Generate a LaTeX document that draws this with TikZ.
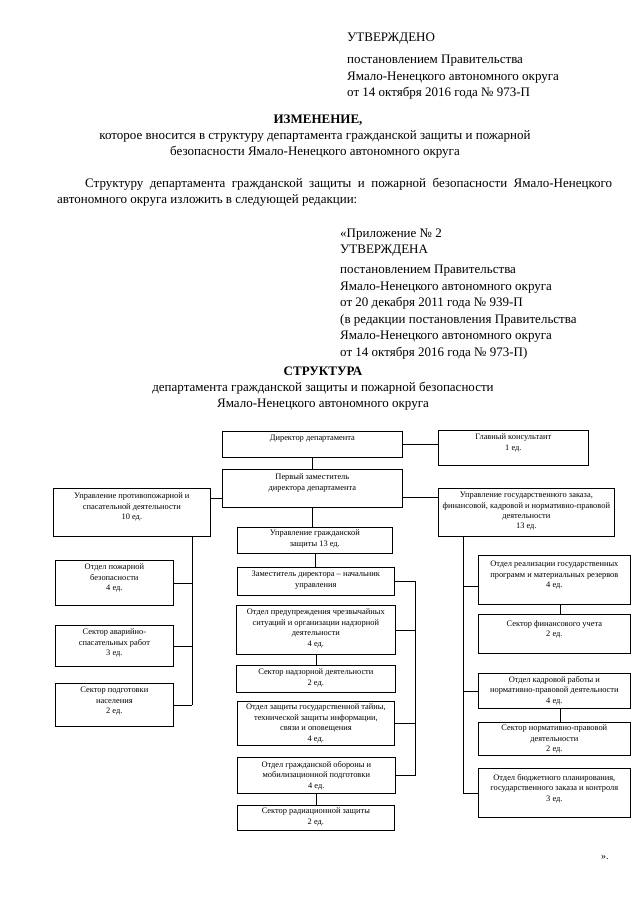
\documentclass[tikz,border=0pt]{standalone}
\usepackage{fontspec}
\setmainfont{Liberation Serif}
\newcommand\hdfont{\fontsize{13}{16}\selectfont}
\newcommand\chfont{\fontsize{8.4}{10.4}\selectfont}
\tikzset{
  box/.style={draw, line width=0.7pt, inner sep=0pt},
  btext/.style={font=\chfont, align=center, inner sep=0pt, anchor=north},
  hd/.style={font=\hdfont, inner sep=0pt, anchor=base west},
  hdc/.style={font=\hdfont, inner sep=0pt, anchor=base},
  link/.style={line width=0.7pt}
}
\newcommand\bx[7]{%
  \node[box, anchor=north west, minimum width={(#4-#2)*1pt}, minimum height={(#5-#3)*1pt}] (#1) at (#2,#3) {};
  \node[btext] (#1t) at ([yshift=-#6pt]#1.north) {#7};
}
\begin{document}
\begin{tikzpicture}[x=1pt,y=-1pt]
\useasboundingbox (0,0) rectangle (640,905);
% header
\node[hd] (h1) at (347,41) {УТВЕРЖДЕНО};
\node[hd] (h2) at (347,63) {постановлением Правительства};
\node[hd] (h3) at (347,80) {Ямало-Ненецкого автономного округа};
\node[hd] (h4) at (347,96) {от 14 октября 2016 года № 973-П};
\node[hdc] (t1) at (318,123) {\bfseries ИЗМЕНЕНИЕ,};
\node[hdc] (t2) at (315,139) {которое вносится в структуру департамента гражданской защиты и пожарной};
\node[hdc] (t3) at (315,155) {безопасности Ямало-Ненецкого автономного округа};
\node[hd] (p1) at (85,187) {\makebox[527pt][s]{Структуру департамента гражданской защиты и пожарной безопасности Ямало-Ненецкого}};
\node[hd] (p2) at (57,203) {автономного округа изложить в следующей редакции:};
\node[hd] (a1) at (340,237) {«Приложение № 2};
\node[hd] (a2) at (340,253) {УТВЕРЖДЕНА};
\node[hd] (a3) at (340,273) {постановлением Правительства};
\node[hd] (a4) at (340,290) {Ямало-Ненецкого автономного округа};
\node[hd] (a5) at (340,306) {от 20 декабря 2011 года № 939-П};
\node[hd] (a6) at (340,323) {(в редакции постановления Правительства};
\node[hd] (a7) at (340,339) {Ямало-Ненецкого автономного округа};
\node[hd] (a8) at (340,356) {от 14 октября 2016 года № 973-П)};
\node[hdc] (s1) at (323,375) {\bfseries СТРУКТУРА};
\node[hdc] (s2) at (323,391) {департамента гражданской защиты и пожарной безопасности};
\node[hdc] (s3) at (323,407) {Ямало-Ненецкого автономного округа};
% top level
\bx{dir}{222}{431}{402}{457}{4}{Директор департамента}
\bx{cons}{438}{430}{588}{465}{4}{Главный консультант\\1 ед.}
\bx{fd}{222}{469}{402}{507}{5}{Первый заместитель\\директора департамента}
\bx{upp}{53}{488}{210}{536}{5}{Управление противопожарной и\\спасательной деятельности\\10 ед.}
\bx{ugoz}{438}{488}{614}{536}{4}{Управление государственного заказа,\\финансовой, кадровой и нормативно-правовой\\деятельности\\13 ед.}
\bx{ugz}{237}{527}{392}{553}{3}{Управление гражданской\\защиты 13 ед.}
% left column
\bx{opb}{55}{560}{173}{605}{4}{Отдел пожарной\\безопасности\\4 ед.}
\bx{sas}{55}{625}{173}{666}{4}{Сектор аварийно-\\спасательных работ\\3 ед.}
\bx{spn}{55}{683}{173}{726}{4}{Сектор подготовки\\населения\\2 ед.}
% middle column
\bx{zam}{237}{567}{394}{595}{4}{Заместитель директора – начальник\\управления}
\bx{opr}{236}{605}{395}{654}{4}{Отдел предупреждения чрезвычайных\\ситуаций и организации надзорной\\деятельности\\4 ед.}
\bx{snd}{236}{665}{395}{692}{4}{Сектор надзорной деятельности\\2 ед.}
\bx{zgt}{237}{701}{394}{745}{3}{Отдел защиты государственной тайны,\\технической защиты информации,\\связи и оповещения\\4 ед.}
\bx{go}{237}{757}{395}{793}{4}{Отдел гражданской обороны и\\мобилизационной подготовки\\4 ед.}
\bx{srz}{237}{805}{394}{830}{3}{Сектор радиационной защиты\\2 ед.}
% right column
\bx{orr}{478}{555}{630}{604}{6}{Отдел реализации государственных\\программ и материальных резервов\\4 ед.}
\bx{sfu}{478}{614}{630}{653}{6}{Сектор финансового учета\\2 ед.}
\bx{okr}{478}{673}{630}{708}{3}{Отдел кадровой работы и\\нормативно-правовой деятельности\\4 ед.}
\bx{snp}{478}{722}{630}{755}{3}{Сектор нормативно-правовой\\деятельности\\2 ед.}
\bx{obp}{478}{768}{630}{817}{6}{Отдел бюджетного планирования,\\государственного заказа и контроля\\3 ед.}
\node[hd] (end) at (601,859) {\fontsize{10}{12}\selectfont ».};
% bus coordinates
\coordinate (Lx) at (192,0);
\coordinate (Mx) at (415,0);
\coordinate (Rx) at (463,0);
% connectors
\draw[link] (dir.south) -- (dir.south |- fd.north);
\draw[link] (dir.east) -- (dir.east -| cons.west);
\draw[link] ([yshift=-10pt]upp.north east) -- ([yshift=-10pt]upp.north east -| fd.west);
\draw[link] ([yshift=-9pt]ugoz.north west) -- ([yshift=-9pt]ugoz.north west -| fd.east);
\draw[link] (fd.south) -- (fd.south |- ugz.north);
\draw[link] (ugz.south) -- (ugz.south |- zam.north);
\draw[link] (opr.south) -- (opr.south |- snd.north);
\draw[link] (go.south) -- (go.south |- srz.north);
% left bus
\draw[link] (upp.south -| Lx) -- (spn.east -| Lx);
\draw[link] (opb.east) -- (opb.east -| Lx);
\draw[link] (sas.east) -- (sas.east -| Lx);
\draw[link] (spn.east) -- (spn.east -| Lx);
% middle bus
\draw[link] (zam.east) -- (zam.east -| Mx) -- (go.east -| Mx) -- (go.east);
\draw[link] (opr.east) -- (opr.east -| Mx);
\draw[link] (zgt.east) -- (zgt.east -| Mx);
% right bus
\draw[link] (ugoz.south -| Rx) -- (obp.west -| Rx) -- (obp.west);
\draw[link] ([yshift=-31pt]orr.north west) -- ([yshift=-31pt]orr.north west -| Rx);
\draw[link] (okr.west) -- (okr.west -| Rx);
\draw[link] ([xshift=6pt]orr.south) -- ([xshift=6pt]orr.south |- sfu.north);
\draw[link] ([xshift=6pt]okr.south) -- ([xshift=6pt]okr.south |- snp.north);
\end{tikzpicture}
\end{document}
